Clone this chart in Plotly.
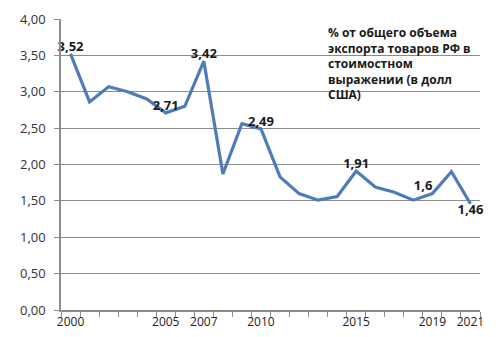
import plotly.graph_objects as go

years = list(range(2000, 2022))
values = [3.52, 2.86, 3.07, 3.00, 2.90, 2.71, 2.80, 3.42, 1.87, 2.56, 2.49,
          1.83, 1.60, 1.51, 1.56, 1.91, 1.69, 1.62, 1.51, 1.60, 1.90, 1.46]
label_years = [2000, 2005, 2007, 2010, 2015, 2019, 2021]
point_labels = {2000: "3,52", 2005: "2,71", 2007: "3,42", 2010: "2,49",
                2015: "1,91", 2019: "1,6", 2021: "1,46"}
label_pos = {2000: "top center", 2005: "top center", 2007: "top center",
             2010: "top center", 2015: "top center", 2019: "top left",
             2021: "bottom center"}
y_ticks = [0, 0.5, 1, 1.5, 2, 2.5, 3, 3.5, 4]
note = "% от общего объема<br>экспорта товаров РФ в<br>стоимостном<br>выражении (в долл<br>США)"

idx = list(range(len(years)))
texts = [point_labels.get(y, "") for y in years]
positions = [label_pos.get(y, "top center") for y in years]

fig = go.Figure()
fig.add_trace(go.Scatter(
    x=idx, y=values, mode="lines+text",
    line=dict(color="#4F7CB8", width=3.2),
    text=texts, textposition=positions,
    textfont=dict(family="Open Sans", size=13, color="#1a1a1a", weight="bold"),
    cliponaxis=False, showlegend=False, hoverinfo="skip",
))

fig.add_annotation(
    xref="paper", yref="paper", x=0.633, y=0.99, xanchor="left", yanchor="top",
    text="<b>" + note + "</b>", showarrow=False, align="left",
    font=dict(family="Open Sans", size=12, color="#1a1a1a"),
)

fig.update_layout(
    width=483, height=321,
    margin=dict(l=53, r=11, t=11, b=19, autoexpand=False),
    paper_bgcolor="white", plot_bgcolor="white",
    separators=", ",
    font=dict(family="Open Sans", color="#333333"),
    xaxis=dict(
        range=[-0.5, len(years) - 0.5], automargin=False,
        tickvals=[years.index(y) for y in label_years],
        ticktext=[str(y) for y in label_years],
        ticks="", showgrid=False, zeroline=False,
        showline=True, linecolor="#8c8c8c", linewidth=1.5,
        tickfont=dict(size=12, color="#222222"),
        minor=dict(tick0=-0.5, dtick=1, ticks="outside", ticklen=5,
                   tickcolor="#8c8c8c", showgrid=False),
    ),
    yaxis=dict(
        range=[0, 4], tickvals=y_ticks, tickformat=".2f", automargin=False,
        showgrid=True, gridcolor="#8c8c8c", gridwidth=1.3,
        zeroline=False, showline=True, linecolor="#8c8c8c", linewidth=1.5,
        ticks="outside", ticklen=5, tickcolor="#8c8c8c",
        tickfont=dict(size=13, color="#333333"),
        ticklabelstandoff=6,
    ),
)

fig.write_html("out.html")
